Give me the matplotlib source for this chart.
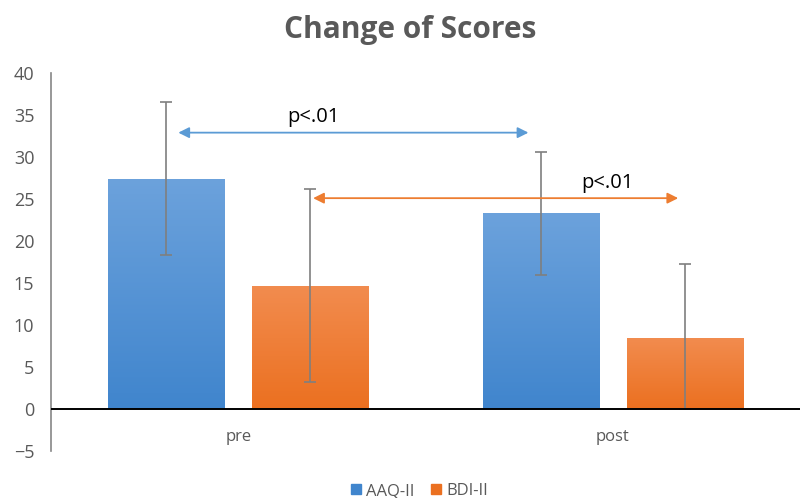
import matplotlib
matplotlib.use('Agg')
import matplotlib.pyplot as plt
import numpy as np
from matplotlib.colors import LinearSegmentedColormap
from matplotlib.patches import Patch

plt.rcParams['font.family'] = ['Open Sans', 'DejaVu Sans']

groups = ["pre", "post"]
series = ["AAQ-II", "BDI-II"]
aaq = [27.4, 23.3]
aaq_sd = [9.1, 7.3]
bdi = [14.7, 8.5]
bdi_sd = [11.5, 8.8]
p_labels = ["p<.01", "p<.01"]

grey = '#595959'
top_cols = ['#6ca2dc', '#f28c4f']
bot_cols = ['#4085cd', '#eb7020']
arrow_cols = ['#5b9bd5', '#ed7d31']

fig = plt.figure(figsize=(8.07, 4.98), dpi=100)
ax = fig.add_axes([0.0632, 0.0944, 0.928, 0.759])

x = np.arange(len(groups))
w = 0.31
off = 0.192

for i, (vals, sd) in enumerate([(aaq, aaq_sd), (bdi, bdi_sd)]):
    pos = x + (-off if i == 0 else off)
    bars = ax.bar(pos, vals, w, color=bot_cols[i], zorder=2)
    # whiskers stop at the zero line
    lower = np.minimum(sd, vals)
    ax.errorbar(pos, vals, yerr=[lower, sd], fmt='none', ecolor='#7f7f7f',
                elinewidth=1.2, capsize=4.5, capthick=1.2, zorder=4)
    cmap = LinearSegmentedColormap.from_list('g%d' % i, [bot_cols[i], top_cols[i]])
    grad = np.linspace(0, 1, 256).reshape(-1, 1)
    for b in bars:
        bx, bw, bh = b.get_x(), b.get_width(), b.get_height()
        im = ax.imshow(grad, cmap=cmap, origin='lower', aspect='auto',
                       extent=(bx, bx + bw, 0, bh), zorder=3)
        im.set_clip_path(b)

# significance arrows between time points
arrows = [(-0.16, 0.775, 32.9), (0.20, 1.175, 25.1)]
labels_at = [(0.2, 34.8), (0.985, 26.9)]
for (x0, x1, y), (tx, ty), lab, c in zip(arrows, labels_at, p_labels, arrow_cols):
    ax.annotate('', xy=(x1, y), xytext=(x0, y),
                arrowprops=dict(arrowstyle='<|-|>', color=c, lw=1.3,
                                mutation_scale=16, shrinkA=0, shrinkB=0), zorder=5)
    ax.text(tx, ty, lab, ha='center', va='center', fontsize=14.5, color='black')

ax.axhline(0, color='black', lw=1.4, zorder=6)

ax.set_xlim(-0.5, 1.5)
ax.set_ylim(-5, 40)
ax.set_yticks(range(-5, 41, 5))
ax.set_xticks([])
for g, xi in zip(groups, x):
    ax.text(xi, -3.3, g, ha='center', va='center', fontsize=12, color=grey)

for s in ['top', 'right', 'bottom']:
    ax.spines[s].set_visible(False)
ax.spines['left'].set_color('#868686')
ax.spines['left'].set_linewidth(1.2)
ax.tick_params(axis='y', length=0, pad=12, labelsize=13, labelcolor=grey)

fig.text(0.508, 0.94, "Change of Scores", ha='center', va='center',
         fontsize=21.5, fontweight='bold', color=grey)

handles = [Patch(color=bot_cols[0]), Patch(color=bot_cols[1])]
fig.legend(handles, series, loc='center', bbox_to_anchor=(0.52, 0.014), ncol=2,
           frameon=False, fontsize=12, handlelength=0.6, handleheight=0.6,
           handletextpad=0.3, columnspacing=1.0, labelcolor=grey)

fig.savefig('out.png', dpi=100)
